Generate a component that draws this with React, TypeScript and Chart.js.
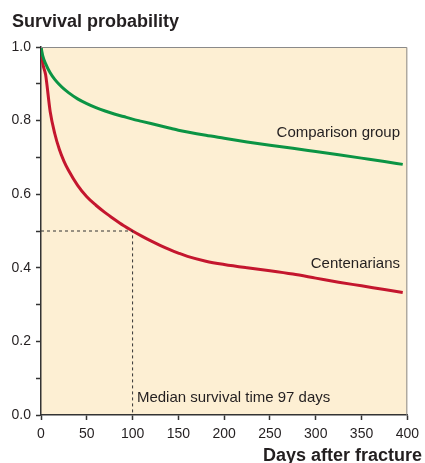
import React, { useEffect, useRef } from "react";
import { Chart, registerables } from "chart.js";

Chart.register(...registerables);

const days = [0, 2, 5, 10, 15, 20, 25, 30, 40, 50, 60, 70, 80, 90, 100, 110, 120, 130, 140, 150, 160, 180, 200, 225, 250, 275, 300, 325, 350, 375, 395];
const centenarians = [1.0, 0.955, 0.925, 0.825, 0.765, 0.722, 0.69, 0.665, 0.624, 0.593, 0.57, 0.55, 0.532, 0.515, 0.5, 0.486, 0.473, 0.461, 0.45, 0.44, 0.431, 0.418, 0.409, 0.4, 0.392, 0.383, 0.372, 0.361, 0.351, 0.341, 0.333];
const comparison = [1.0, 0.975, 0.955, 0.93, 0.912, 0.898, 0.886, 0.876, 0.859, 0.846, 0.835, 0.826, 0.818, 0.811, 0.804, 0.798, 0.792, 0.786, 0.78, 0.774, 0.769, 0.76, 0.752, 0.742, 0.733, 0.725, 0.716, 0.707, 0.698, 0.689, 0.681];
const medianX = [0, 100, 100];
const medianY = [0.5, 0.5, 0];
const xTicks = [0, 50, 100, 150, 200, 250, 300, 350, 400];

const FONT = "'Liberation Sans', Arial, Helvetica, sans-serif";
const TEXT = "#231f20";

const decor = {
  id: "decor",
  beforeDraw(chart: any) {
    const { ctx, chartArea: a } = chart;
    ctx.save();
    ctx.fillStyle = "#fdefd3";
    ctx.fillRect(a.left, a.top, a.right - a.left, a.bottom - a.top);
    ctx.restore();
  },
  afterDraw(chart: any) {
    const { ctx, chartArea: a, scales } = chart;
    const x = scales.x, y = scales.y;
    ctx.save();
    ctx.strokeStyle = "#8a8a8a";
    ctx.lineWidth = 1;
    ctx.beginPath();
    ctx.moveTo(a.left, a.top + 0.5);
    ctx.lineTo(a.right - 0.5, a.top + 0.5);
    ctx.lineTo(a.right - 0.5, a.bottom);
    ctx.stroke();

    ctx.fillStyle = TEXT;
    ctx.font = `15px ${FONT}`;
    ctx.textBaseline = "middle";
    ctx.textAlign = "right";
    ctx.fillText("Comparison group", x.getPixelForValue(392), y.getPixelForValue(0.766));
    ctx.fillText("Centenarians", x.getPixelForValue(392), y.getPixelForValue(0.41));
    ctx.textAlign = "left";
    ctx.fillText("Median survival time 97 days", x.getPixelForValue(104.7), y.getPixelForValue(0.046));

    ctx.font = `bold 18px ${FONT}`;
    ctx.textBaseline = "alphabetic";
    ctx.textAlign = "left";
    ctx.fillText("Survival probability", 12, 27);
    ctx.textAlign = "right";
    ctx.fillText("Days after fracture", 422, 461);
    ctx.restore();
  },
};

export default function App() {
  const ref = useRef<HTMLCanvasElement>(null);
  useEffect(() => {
    document.body.style.margin = "0";
    const chart = new Chart(ref.current!, {
      type: "line",
      data: {
        datasets: [
          {
            label: "Median",
            data: medianX.map((v, i) => ({ x: v, y: medianY[i] })),
            borderColor: "#333",
            borderWidth: 1,
            borderDash: [3, 3],
            pointRadius: 0,
            tension: 0,
          },
          {
            label: "Comparison group",
            data: days.map((d, i) => ({ x: d, y: comparison[i] })),
            borderColor: "#0b9444",
            borderWidth: 3,
            pointRadius: 0,
            cubicInterpolationMode: "monotone",
          },
          {
            label: "Centenarians",
            data: days.map((d, i) => ({ x: d, y: centenarians[i] })),
            borderColor: "#c4162e",
            borderWidth: 3,
            pointRadius: 0,
            cubicInterpolationMode: "monotone",
          },
        ],
      },
      options: {
        animation: false,
        responsive: false,
        devicePixelRatio: 1,
        layout: { padding: { top: 47, right: 16, left: 0, bottom: 0 } },
        plugins: { legend: { display: false }, title: { display: false }, tooltip: { enabled: false } },
        scales: {
          x: {
            type: "linear",
            min: 0,
            max: 400,
            afterBuildTicks: (s: any) => {
              s.ticks = xTicks.map((v) => ({ value: v }));
            },
            afterFit: (s: any) => {
              s.height = 48;
            },
            ticks: { font: { family: FONT, size: 14 }, color: TEXT, padding: 6, maxRotation: 0, autoSkip: false },
            grid: { drawOnChartArea: false, drawTicks: true, tickLength: 5, color: "#333", tickWidth: 1.5 },
            border: { display: true, color: "#333", width: 1.5 },
          },
          y: {
            type: "linear",
            min: 0,
            max: 1,
            afterFit: (s: any) => {
              s.width = 41;
            },
            ticks: {
              stepSize: 0.1,
              autoSkip: false,
              font: { family: FONT, size: 14 },
              color: TEXT,
              padding: 5,
              callback: (v: any) => (Math.round(Number(v) * 10) % 2 === 0 ? Number(v).toFixed(1) : ""),
            },
            grid: { drawOnChartArea: false, drawTicks: true, tickLength: 5, color: "#333", tickWidth: 1.5 },
            border: { display: true, color: "#333", width: 1.5 },
          },
        },
      },
      plugins: [decor],
    } as any);
    return () => chart.destroy();
  }, []);
  return <canvas ref={ref} width={425} height={463} style={{ display: "block" }} />;
}
